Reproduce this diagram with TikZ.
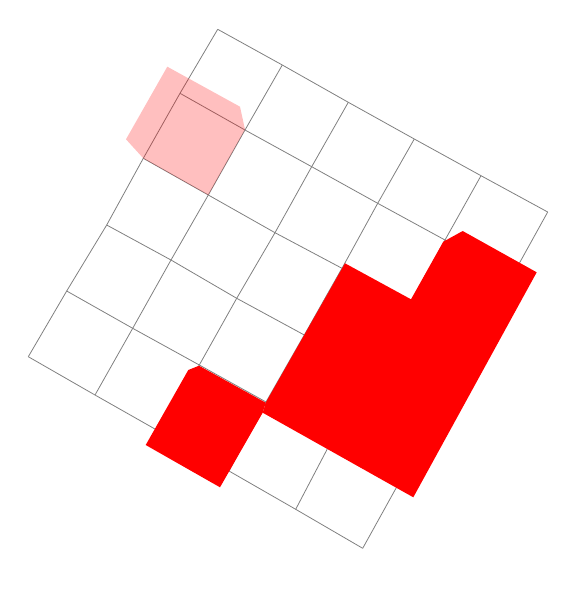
\documentclass[tikz,border=0pt]{standalone}
\usepackage{xcolor}
\usepackage{tikz}
\definecolor{boardgray}{HTML}{808080}
\definecolor{piecered}{HTML}{FF0000}

\begin{document}
\begin{tikzpicture}[x=1pt,y=-1pt]
  \useasboundingbox (0,0) rectangle (570,608);
  % board corners, the board is a little warped
  \foreach \a/\b/\px/\py in {
      0/0/217.7/29.3, 1/0/282.3/65,   2/0/348.3/102.3, 3/0/414.3/139,   4/0/481/175.7, 5/0/547.7/212,
      0/1/180/93.3,   1/1/245/130,    2/1/311.7/166.7, 3/1/377.7/203.3, 4/1/445/240,   5/1/512/276.5,
      0/2/143.3/158.3,1/2/208.3/195,  2/2/275/232.7,   3/2/342/268.3,   4/2/409/305,   5/2/475/342,
      0/3/106.7/225,  1/3/171/260,    2/3/236.7/298.3, 3/3/304.3/335,   4/3/371/372,   5/3/438/410,
      0/4/66.7/291,   1/4/132.7/328.3,2/4/199.3/365,   3/4/266/402,     4/4/332/440,   5/4/400/481,
      0/5/28.3/356.7, 1/5/95/395,     2/5/162/433,     3/5/229/471,     4/5/295.7/509.3,5/5/362.7/548.3}
    \coordinate (v\a\b) at (\px,\py);
  \foreach \b in {0,...,5}
    \draw[boardgray,line width=0.8pt] (v0\b) \foreach \a in {1,...,5} { -- (v\a\b) };
  \foreach \a in {0,...,5}
    \draw[boardgray,line width=0.8pt] (v\a0) \foreach \b in {1,...,5} { -- (v\a\b) };
  % ghost of the piece being moved
  \fill[piecered,opacity=0.25] (167.3,66.7) -- (240,106.7) -- (245,129.5) -- (v12) -- (v02) -- (126,139.3) -- cycle;
  % pieces on the board
  \fill[piecered] (188.3,370) -- (199,365.7) -- (265.7,402.7) -- (262.7,412.7) -- (220,487.3) -- (145.7,445) -- cycle;
  \fill[piecered] (265.7,402.7) -- (345,263.3) -- (411,299.3) -- (443.3,241.7) -- (462.7,231) -- (536.7,272.3) -- (413.3,497.3) -- (262.7,412.7) -- cycle;
\end{tikzpicture}
\end{document}
